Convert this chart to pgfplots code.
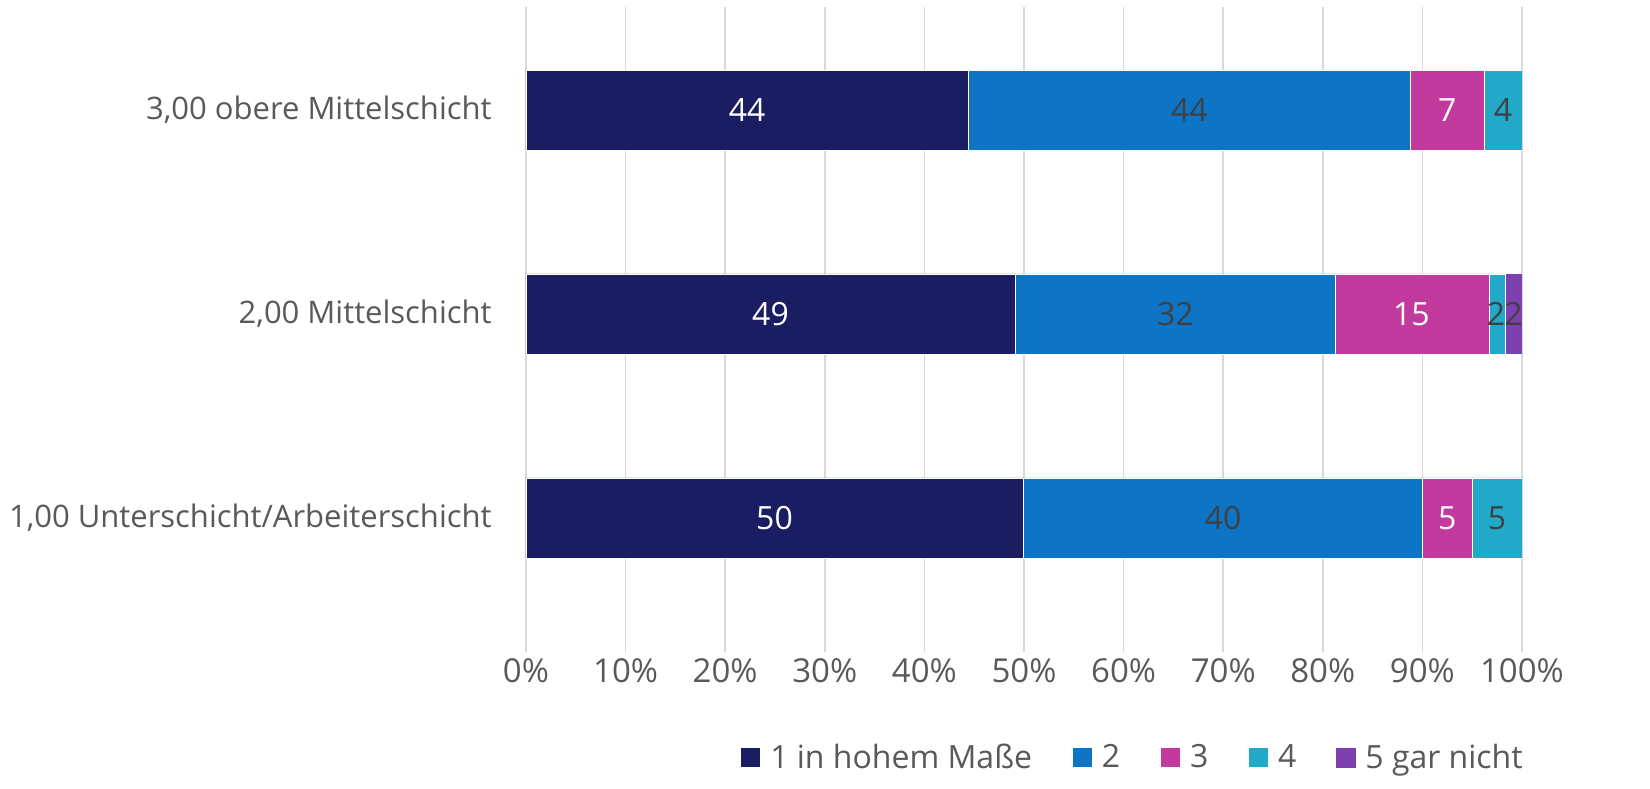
\documentclass[border=0pt]{standalone}
\usepackage{fontspec}
\setmainfont{Open Sans}
\usepackage{pgfplots}
\pgfplotsset{compat=1.18}

\definecolor{cNavy}{HTML}{1B1D63}
\definecolor{cBlue}{HTML}{0E74C6}
\definecolor{cMag}{HTML}{C23A9E}
\definecolor{cCyan}{HTML}{22A9CA}
\definecolor{cPurp}{HTML}{7E40AE}
\definecolor{cGrid}{HTML}{D9D9D9}
\definecolor{cText}{HTML}{595959}
\definecolor{cLab}{HTML}{404040}

\pgfplotsset{
  chartbox/.style={
    at={(263pt,68pt)}, anchor=south west,
    scale only axis,
    width=498pt, height=322.5pt,
    xmin=0, xmax=100,
    ymin=0.343, ymax=3.505,
  }
}

\begin{document}
\begin{tikzpicture}[font=\fontsize{15.5}{18}\selectfont]
\begin{axis}[
  chartbox,
  xbar stacked,
  bar width=40pt,
  xtick={0,10,...,100},
  xticklabel={\pgfmathprintnumber{\tick}\%},
  ytick={1,2,3},
  yticklabels={1{,}00 Unterschicht/Arbeiterschicht, 2{,}00 Mittelschicht, 3{,}00 obere Mittelschicht},
  xmajorgrids=true,
  grid style={cGrid, line width=0.8pt},
  axis line style={draw=none},
  major tick length=0pt,
  tick label style={text=cText, font=\fontsize{15.5}{18}\selectfont},
  /pgf/number format/assume math mode=true,
  xticklabel style={yshift=0pt, font=\fontsize{16.5}{18}\selectfont},
  yticklabel style={anchor=east, inner sep=0pt, xshift=-17pt},
  legend style={at={(0.610,-0.164)}, anchor=center, draw=none,
    legend columns=-1, text=cText, font=\fontsize{16}{18}\selectfont,
    /tikz/every even column/.append style={column sep=18pt}},
  legend image code/.code={\fill[#1] (0pt,-5pt) rectangle (10pt,5pt); \path (12.5pt,0pt);},
]
\addplot+[fill=cNavy, draw=white, line width=0.4pt]
  coordinates {(49.9,1) (49.1,2) (44.4,3)};
\addplot+[fill=cBlue, draw=white, line width=0.4pt]
  coordinates {(40.1,1) (32.2,2) (44.4,3)};
\addplot+[fill=cMag, draw=white, line width=0.4pt]
  coordinates {(5.0,1) (15.4,2) (7.4,3)};
\addplot+[fill=cCyan, draw=white, line width=0.4pt]
  coordinates {(5.0,1) (1.6,2) (3.8,3)};
\addplot+[fill=cPurp, draw=none]
  coordinates {(0,1) (1.7,2) (0,3)};
\legend{1 in hohem Maße, 2, 3, 4, 5 gar nicht}
\end{axis}
% data labels, centred on each segment
\begin{axis}[
  chartbox,
  hide axis,
  nodes near coords,
  point meta=explicit symbolic,
  every node near coord/.append style={anchor=center, font=\fontsize{16}{18}\selectfont},
]
\addplot[only marks, mark=none, nodes near coords style={text=white}]
  coordinates {(24.95,1) [50] (24.55,2) [49] (22.2,3) [44]
               (92.5,1) [5] (88.9,2) [15] (92.5,3) [7]};
\addplot[only marks, mark=none, nodes near coords style={text=cLab}]
  coordinates {(70.0,1) [40] (65.2,2) [32] (66.6,3) [44]
               (97.5,1) [5] (97.4,2) [2] (99.15,2) [2] (98.1,3) [4]};
\end{axis}
\pgfresetboundingbox
\useasboundingbox (0,0) rectangle (825pt,394pt);
\end{tikzpicture}
\end{document}
